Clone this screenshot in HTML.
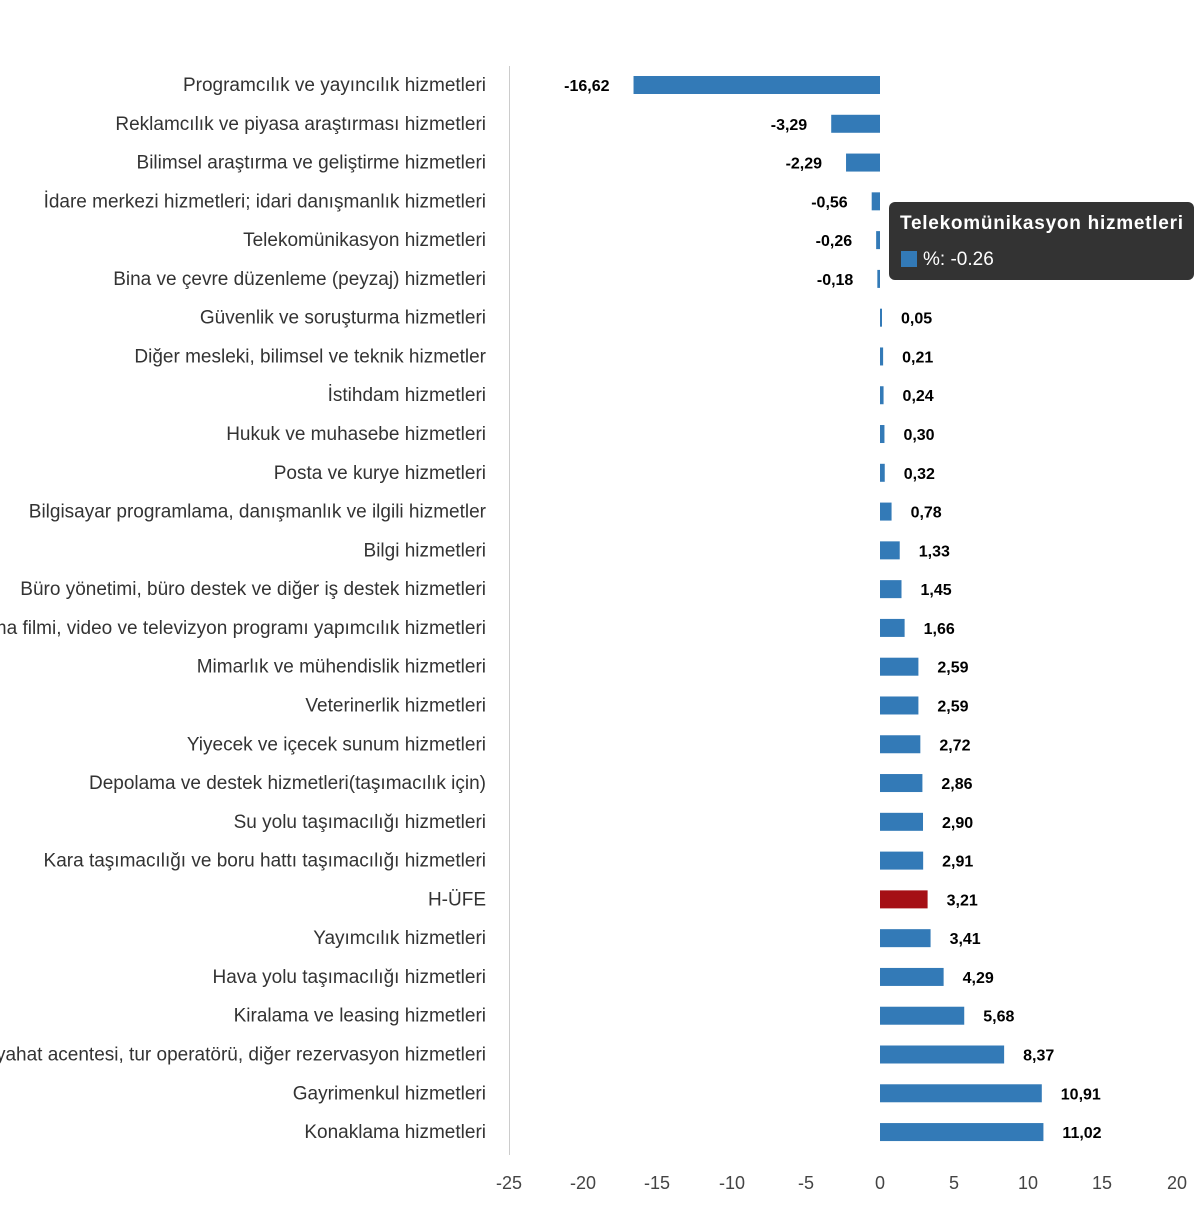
<!DOCTYPE html>
<html><head><meta charset="utf-8"><style>
body{margin:0;background:#fff;width:1200px;height:1200px;overflow:hidden;font-family:"Liberation Sans",sans-serif}
</style></head><body>
<svg width="1200" height="1200" xmlns="http://www.w3.org/2000/svg" font-family="Liberation Sans, DejaVu Sans, sans-serif">
<line x1="509.5" y1="66" x2="509.5" y2="1155" stroke="#ccc" stroke-width="1"/>
<g id="rows"></g>
<g font-size="18" fill="#444" text-anchor="middle">
<text x="509" y="1189">-25</text><text x="583" y="1189">-20</text><text x="657" y="1189">-15</text><text x="732" y="1189">-10</text><text x="806" y="1189">-5</text><text x="880" y="1189">0</text><text x="954" y="1189">5</text><text x="1028" y="1189">10</text><text x="1102" y="1189">15</text><text x="1177" y="1189">20</text>
</g>
<g>
<rect x="889" y="202" width="305" height="78" rx="6" fill="#333"/>
<text x="900" y="229" font-size="19" font-weight="bold" fill="#fff" textLength="283">Telekomünikasyon hizmetleri</text>
<rect x="901" y="251" width="16" height="16" fill="#337ab7"/>
<text x="923" y="265" font-size="19" fill="#fff">%: -0.26</text>
</g>
</svg>
<script>
var d=[["Programcılık ve yayıncılık hizmetleri",-16.62],["Reklamcılık ve piyasa araştırması hizmetleri",-3.29],["Bilimsel araştırma ve geliştirme hizmetleri",-2.29],["İdare merkezi hizmetleri; idari danışmanlık hizmetleri",-0.56],["Telekomünikasyon hizmetleri",-0.26],["Bina ve çevre düzenleme (peyzaj) hizmetleri",-0.18],["Güvenlik ve soruşturma hizmetleri",0.05],["Diğer mesleki, bilimsel ve teknik hizmetler",0.21],["İstihdam hizmetleri",0.24],["Hukuk ve muhasebe hizmetleri",0.30],["Posta ve kurye hizmetleri",0.32],["Bilgisayar programlama, danışmanlık ve ilgili hizmetler",0.78],["Bilgi hizmetleri",1.33],["Büro yönetimi, büro destek ve diğer iş destek hizmetleri",1.45],["Sinema filmi, video ve televizyon programı yapımcılık hizmetleri",1.66],["Mimarlık ve mühendislik hizmetleri",2.59],["Veterinerlik hizmetleri",2.59],["Yiyecek ve içecek sunum hizmetleri",2.72],["Depolama ve destek hizmetleri(taşımacılık için)",2.86],["Su yolu taşımacılığı hizmetleri",2.90],["Kara taşımacılığı ve boru hattı taşımacılığı hizmetleri",2.91],["H-ÜFE",3.21],["Yayımcılık hizmetleri",3.41],["Hava yolu taşımacılığı hizmetleri",4.29],["Kiralama ve leasing hizmetleri",5.68],["Seyahat acentesi, tur operatörü, diğer rezervasyon hizmetleri",8.37],["Gayrimenkul hizmetleri",10.91],["Konaklama hizmetleri",11.02]];
var s="",u=14.83,z=880;
d.forEach(function(r,i){var y=85+i*38.78,v=r[1],w=Math.max(Math.abs(v)*u,2),x=v<0?z-w:z;
var c=r[0]=="H-ÜFE"?"#a50f15":"#337ab7";
s+='<text x="486" y="'+(y+6)+'" font-size="19" fill="#333" text-anchor="end">'+r[0]+'</text>';
s+='<rect x="'+x+'" y="'+(y-9)+'" width="'+w+'" height="18" fill="'+c+'"/>';
var t=v.toFixed(2).replace(".",",");
if(v<0)s+='<text x="'+(x-24)+'" y="'+(y+6)+'" font-size="16" font-weight="bold" fill="#000" text-anchor="end">'+t+'</text>';
else s+='<text x="'+(x+w+19)+'" y="'+(y+6)+'" font-size="16" font-weight="bold" fill="#000">'+t+'</text>';});
document.getElementById("rows").innerHTML=s;
</script>
</body></html>
